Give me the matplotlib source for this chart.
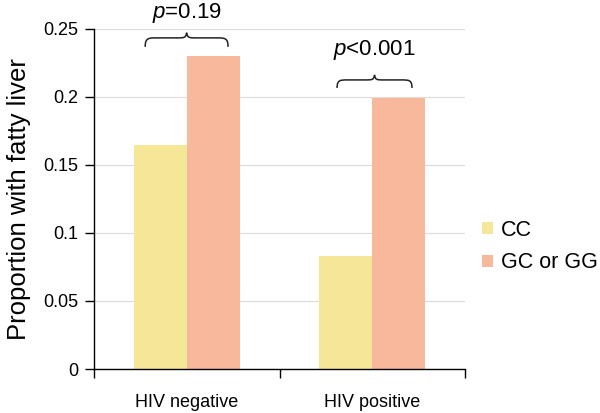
import matplotlib
matplotlib.use("Agg")
import matplotlib.pyplot as plt
from matplotlib.path import Path
from matplotlib.patches import PathPatch, Patch

# data
groups = ["HIV negative", "HIV positive"]
genotypes = ["CC", "GC or GG"]
cc_vals = [0.165, 0.083]
gc_vals = [0.230, 0.199]
p_labels = ["=0.19", "<0.001"]
colors = ["#F5E797", "#F8B89C"]

plt.rcParams['font.family'] = ['Liberation Sans', 'DejaVu Sans']
plt.rcParams['mathtext.fontset'] = 'custom'
plt.rcParams['mathtext.it'] = 'Liberation Sans:italic'
plt.rcParams['mathtext.rm'] = 'Liberation Sans'


def draw_brace(ax, x0, x1, ybot, ybody, ypeak):
    """Horizontal curly brace, tips pointing down, centre point up"""
    w = x1 - x0
    xm = (x0 + x1) / 2
    verts = [
        (x0, ybot),
        (x0, ybody), (x0 + 0.04 * w, ybody), (x0 + 0.14 * w, ybody),
        (xm - 0.12 * w, ybody),
        (xm - 0.03 * w, ybody), (xm - 0.01 * w, ybody), (xm, ypeak),
        (xm + 0.01 * w, ybody), (xm + 0.03 * w, ybody), (xm + 0.12 * w, ybody),
        (x1 - 0.14 * w, ybody),
        (x1 - 0.04 * w, ybody), (x1, ybody), (x1, ybot),
    ]
    codes = [Path.MOVETO,
             Path.CURVE4, Path.CURVE4, Path.CURVE4,
             Path.LINETO,
             Path.CURVE4, Path.CURVE4, Path.CURVE4,
             Path.CURVE4, Path.CURVE4, Path.CURVE4,
             Path.LINETO,
             Path.CURVE4, Path.CURVE4, Path.CURVE4]
    ax.add_patch(PathPatch(Path(verts, codes), fill=False, lw=1.1,
                           edgecolor='#222222', clip_on=False))


fig = plt.figure(figsize=(6.0, 4.13), dpi=100, facecolor='white')
ax = fig.add_axes([0.157, 0.1065, 0.618, 0.8235])

x = list(range(len(groups)))
bw = 0.286
ax.bar([i - bw / 2 for i in x], cc_vals, width=bw, color=colors[0], zorder=2)
ax.bar([i + bw / 2 for i in x], gc_vals, width=bw, color=colors[1], zorder=2)

ax.set_xlim(-0.5, 1.5)
ax.set_ylim(0, 0.25)
ax.set_yticks([0, 0.05, 0.1, 0.15, 0.2, 0.25])
ax.set_yticklabels(["0", "0.05", "0.1", "0.15", "0.2", "0.25"])
ax.yaxis.grid(True, color='#dddddd', lw=0.9, zorder=0)
ax.set_axisbelow(True)

# category boundaries as major ticks, names as minor ticks
ax.set_xticks([-0.5, 0.5, 1.5])
ax.set_xticklabels([])
ax.set_xticks(x, minor=True)
ax.set_xticklabels(groups, minor=True)
ax.tick_params(axis='x', which='major', length=6.5, width=1)
ax.tick_params(axis='x', which='minor', length=0, pad=18, labelsize=13)
ax.tick_params(axis='y', length=6.5, width=1, pad=5, labelsize=13)

for s in ['top', 'right']:
    ax.spines[s].set_visible(False)
for s in ['left', 'bottom']:
    ax.spines[s].set_linewidth(1)

ax.set_ylabel("Proportion with fatty liver", fontsize=18.5, labelpad=9)

# significance braces
draw_brace(ax, -0.225, 0.222, 0.2368, 0.2434, 0.2472)
draw_brace(ax, 0.81, 1.214, 0.2066, 0.2125, 0.2162)
ax.text(0.0, 0.2615, r"$\it{p}$" + p_labels[0], ha='center', va='center',
        fontsize=16, clip_on=False)
ax.text(1.01, 0.2346, r"$\it{p}$" + p_labels[1], ha='center', va='center',
        fontsize=16)

handles = [Patch(facecolor=c, edgecolor='none') for c in colors]
fig.legend(handles, genotypes, loc='center left',
           bbox_to_anchor=(0.803, 0.403), frameon=False, fontsize=15.5,
           borderpad=0, borderaxespad=0,
           handlelength=0.5, handleheight=0.5, handletextpad=0.4,
           labelspacing=0.55)

fig.savefig("out.png", dpi=100, facecolor='white')
